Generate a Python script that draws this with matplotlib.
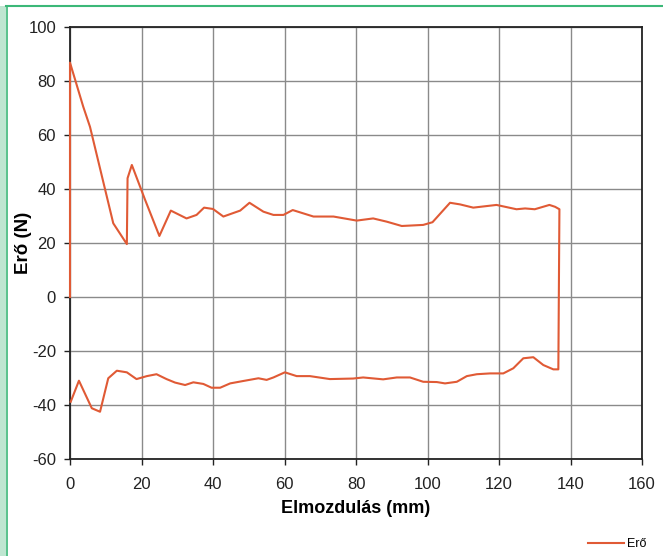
import matplotlib.pyplot as plt
from matplotlib.patches import Rectangle
from matplotlib.lines import Line2D

plt.rcParams['font.family'] = ['Liberation Sans', 'DejaVu Sans']
plt.rcParams['axes.unicode_minus'] = False

# force-displacement loop (mm, N)
elmozdulas = [0.0, 0.0, 3.7, 5.6, 12.1, 15.9, 16.1, 17.3, 21.0, 25.0, 28.2, 32.6,
              35.4, 37.5, 40.0, 42.9, 47.6, 50.2, 54.1, 56.9, 59.7, 62.3, 68.1,
              73.7, 80.2, 84.8, 88.6, 92.8, 98.8, 101.4, 106.3, 109.1, 112.8,
              119.3, 124.9, 127.3, 130.0, 134.1, 135.7, 136.9, 136.6, 135.2,
              132.4, 129.6, 126.8, 124.0, 121.2, 117.5, 113.8, 111.0, 108.2,
              104.9, 102.6, 98.8, 95.1, 91.4, 87.6, 82.0, 79.2, 72.7, 67.1,
              63.4, 60.1, 56.9, 55.0, 52.7, 48.5, 44.8, 42.0, 39.6, 37.3, 34.5,
              32.2, 29.4, 27.0, 24.2, 21.5, 18.6, 15.9, 13.1, 10.7, 8.4, 6.1,
              2.5, 0.2]
ero = [0.0, 86.8, 70.5, 63.0, 27.3, 19.6, 44.0, 48.9, 36.0, 22.6, 32.0, 29.1,
       30.4, 33.1, 32.6, 29.8, 32.0, 34.9, 31.6, 30.4, 30.4, 32.2, 29.8, 29.8,
       28.3, 29.1, 27.9, 26.3, 26.7, 27.7, 34.9, 34.3, 33.1, 34.1, 32.5, 32.8,
       32.5, 34.1, 33.4, 32.5, -26.8, -26.8, -25.2, -22.3, -22.7, -26.4,
       -28.3, -28.3, -28.6, -29.3, -31.4, -32.0, -31.5, -31.4, -29.8, -29.8,
       -30.5, -29.8, -30.2, -30.4, -29.3, -29.3, -27.9, -29.8, -30.7, -30.1,
       -31.1, -32.0, -33.6, -33.6, -32.2, -31.6, -32.6, -31.7, -30.4, -28.6,
       -29.3, -30.4, -27.9, -27.3, -30.1, -42.5, -41.2, -31.0, -38.8]

x_ticks = list(range(0, 161, 20))
y_ticks = list(range(-60, 101, 20))

piros = '#e05a35'

fig = plt.figure(figsize=(6.63, 5.56), dpi=100)
fig.patch.set_facecolor('white')
ax = fig.add_axes([70/663, 1 - 459/556, 572/663, 432/556])

#green frame of the page
fig.patches.append(Rectangle((0, 0), 6/663, 1 - 6/556, transform=fig.transFigure,
                             facecolor='#bfe6d1', edgecolor='none'))
fig.add_artist(Line2D([6.5/663, 6.5/663], [0, 1 - 6/556], transform=fig.transFigure,
                      color='#3cb878', lw=1.2))
fig.add_artist(Line2D([6/663, 1], [1 - 6/556, 1 - 6/556], transform=fig.transFigure,
                      color='#3cb878', lw=1.5))

ax.plot(elmozdulas, ero, color=piros, lw=1.5, label='Erő', clip_on=False, zorder=5)

ax.set_xlim(0, 160)
ax.set_ylim(-60, 100)
ax.set_xticks(x_ticks)
ax.set_yticks(y_ticks)
ax.grid(True, color='#8a8a8a', lw=1.0)
ax.set_axisbelow(True)
for s in ax.spines.values():
    s.set_color('#222222')
    s.set_linewidth(1.3)
ax.tick_params(length=4, width=1, labelsize=12, colors='#222222')
ax.tick_params(axis='x', pad=9)
ax.tick_params(axis='y', pad=6)
ax.set_xlabel('Elmozdulás (mm)', fontsize=13, fontweight='bold', labelpad=6)
ax.set_ylabel('Erő (N)', fontsize=13.5, fontweight='bold')
ax.yaxis.set_label_coords(-0.066, 0.5)

fig.legend(loc='center left', bbox_to_anchor=(588/663, 1 - 544/556), frameon=False,
           fontsize=9, handlelength=2.9, handletextpad=0.2,
           borderpad=0, borderaxespad=0)

fig.savefig('out.png', dpi=100)
